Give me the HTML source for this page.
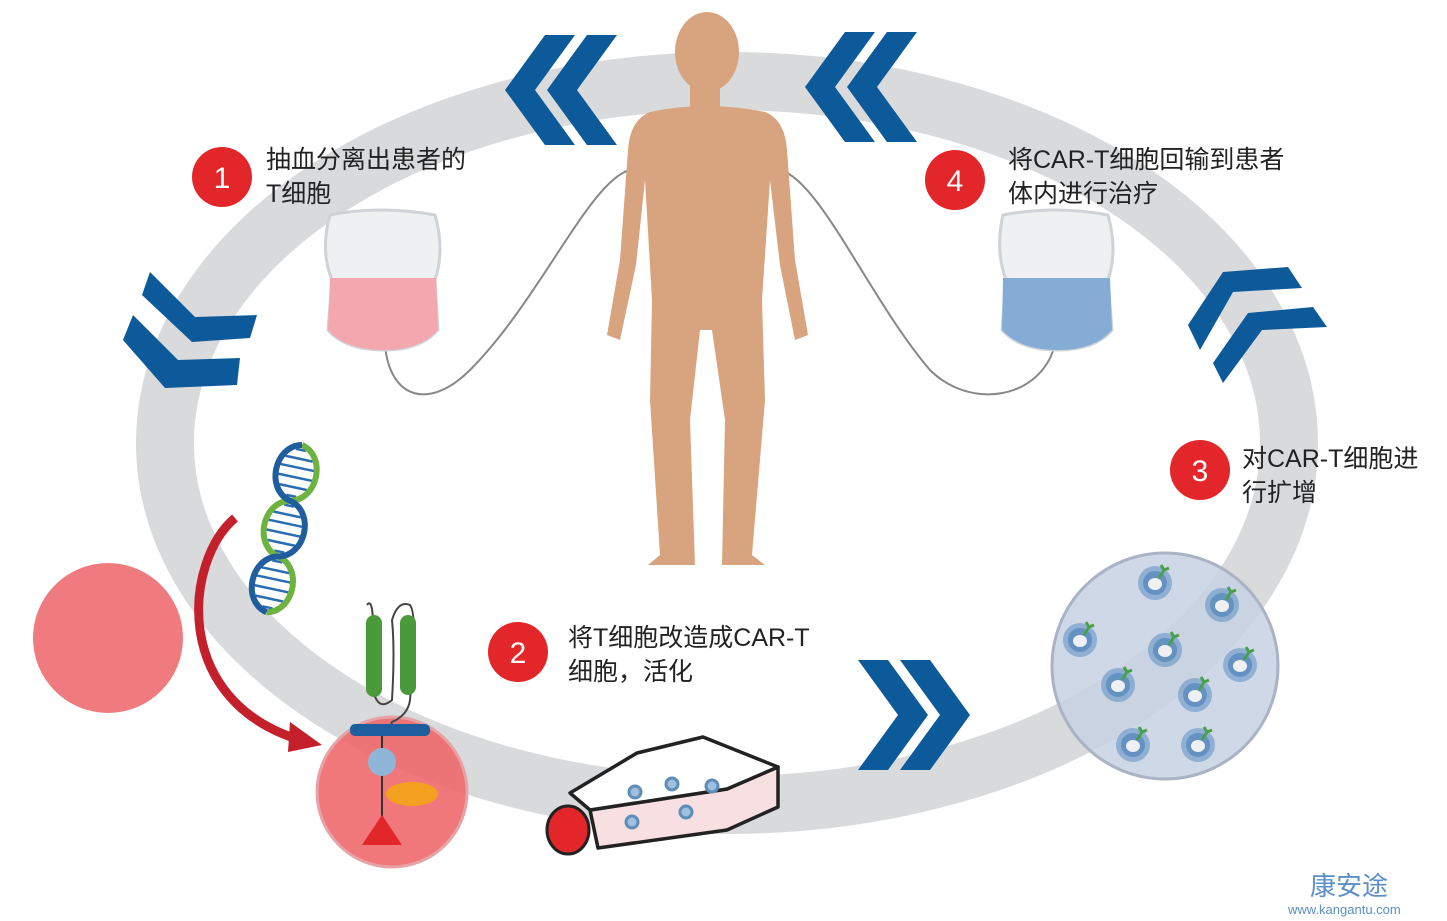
<!DOCTYPE html>
<html><head><meta charset="utf-8"><style>
html,body{margin:0;padding:0;background:#fff;width:1447px;height:921px;overflow:hidden}
svg{display:block}
text{font-family:"Liberation Sans","Noto Sans CJK SC",sans-serif}
</style></head><body>
<svg width="1447" height="921" viewBox="0 0 1447 921" xmlns="http://www.w3.org/2000/svg">
<defs>
<g id="chev"><polygon points="0,0 30,0 -10,55 30,110 0,110 -40,55" fill="#0d5a9a"/></g>
<g id="tc">
<circle r="17" fill="#5b8fc4" opacity="0.55"/><circle r="12" fill="#4a7fb6" opacity="0.6"/>
<ellipse cx="0" cy="1" rx="7" ry="6" fill="#eef0f2"/>
<path d="M4,-5 L9,-13 M9,-13 L6,-18 M9,-13 L14,-15" stroke="#4aa04a" stroke-width="3" fill="none"/>
</g>
<g id="rungs">
<line x1="-5" y1="5" x2="5" y2="5"/><line x1="-14" y1="14" x2="14" y2="14"/><line x1="-19" y1="23" x2="19" y2="23"/><line x1="-20" y1="33" x2="20" y2="33"/><line x1="-14" y1="43" x2="14" y2="43"/><line x1="-5" y1="52" x2="5" y2="52"/>
</g>
</defs>
<!-- ring -->
<ellipse cx="727" cy="443" rx="562" ry="362" fill="none" stroke="#d9dadc" stroke-width="58"/>
<!-- chevrons -->
<g transform="translate(545,35)"><use href="#chev"/><use href="#chev" x="42"/></g>
<g transform="translate(845,32)"><use href="#chev"/><use href="#chev" x="42"/></g>
<polygon points="150,272 195,317 257,315 250,338 192,342 142,295" fill="#0d5a9a"/>
<polygon points="133,315 178,360 240,358 237,385 165,388 123,340" fill="#0d5a9a"/>
<polygon points="1188,325 1223,272 1288,267 1302,288 1233,292 1200,350" fill="#0d5a9a"/>
<polygon points="1213,363 1248,313 1313,307 1327,327 1262,330 1223,383" fill="#0d5a9a"/>
<g transform="translate(930,770) rotate(180)"><use href="#chev"/><use href="#chev" x="42"/></g>
<!-- wires -->
<path d="M385,345 C390,400 430,410 470,370 C540,300 590,180 630,170" fill="none" stroke="#888" stroke-width="2"/>
<path d="M780,170 C820,180 870,300 930,370 C970,410 1040,400 1055,345" fill="none" stroke="#888" stroke-width="2"/>
<!-- bags -->
<path d="M330,215 Q380,205 435,215 Q445,250 435,280 L438,330 Q420,350 385,350 Q345,350 328,330 L332,280 Q320,250 330,215Z" fill="#eef0f2" stroke="#cfd3d7" stroke-width="3"/>
<path d="M330,278 L436,278 L438,330 Q420,350 385,350 Q345,350 328,330Z" fill="#f4a7ae"/>
<path d="M1003,215 Q1055,205 1108,215 Q1118,250 1108,280 L1112,330 Q1095,350 1058,350 Q1020,350 1002,330 L1006,280 Q995,250 1003,215Z" fill="#eef0f2" stroke="#cfd3d7" stroke-width="3"/>
<path d="M1003,278 L1110,278 L1112,330 Q1095,350 1058,350 Q1020,350 1002,330Z" fill="#84acd4"/>
<!-- human -->
<g fill="#d7a47f">
<ellipse cx="707" cy="52" rx="32" ry="40"/>
<rect x="690" y="80" width="30" height="40"/>
<path d="M650,112 Q705,100 765,112 Q785,120 787,150 L795,260 L808,335 L795,340 L780,265 L770,180 L762,300 L765,400 L752,555 L765,565 L722,565 L725,420 L712,330 L700,330 L690,420 L695,565 L648,565 L660,555 L650,400 L652,300 L645,180 L636,265 L620,340 L607,335 L620,260 L628,150 Q630,120 650,112Z"/>
</g>
<!-- step badges -->
<g fill="#fff" text-anchor="middle">
<circle cx="222" cy="177" r="30" fill="#e3262a"/><text x="222" y="188" font-size="30">1</text>
<circle cx="955" cy="180" r="30" fill="#e3262a"/><text x="955" y="191" font-size="30">4</text>
<circle cx="1200" cy="470" r="30" fill="#e3262a"/><text x="1200" y="481" font-size="30">3</text>
<circle cx="518" cy="652" r="30" fill="#e3262a"/><text x="518" y="663" font-size="30">2</text>
</g>
<g font-size="25" fill="#222">
<text x="266" y="168">抽血分离出患者的</text><text x="266" y="202">T细胞</text>
<text x="1008" y="168">将CAR-T细胞回输到患者</text><text x="1008" y="202">体内进行治疗</text>
<text x="1242" y="467">对CAR-T细胞进</text><text x="1242" y="501">行扩增</text>
<text x="568" y="646">将T细胞改造成CAR-T</text><text x="568" y="680">细胞，活化</text>
</g>
<!-- left cells -->
<circle cx="108" cy="638" r="75" fill="#f07b7f"/>
<path d="M235,518 C185,560 170,700 300,740" fill="none" stroke="#c4202c" stroke-width="9"/>
<polygon points="290,722 322,745 288,752" fill="#c4202c"/>
<!-- DNA -->
<g transform="translate(302,445) rotate(12)">
<g stroke="#2a6db0" stroke-width="2.5">
<use href="#rungs"/><use href="#rungs" y="57"/><use href="#rungs" y="114"/>
</g>
<path d="M0,0 C27,6 27,51 0,57 C-27,63 -27,108 0,114 C27,120 27,165 0,171" fill="none" stroke="#6cb33f" stroke-width="6"/>
<path d="M0,0 C-27,6 -27,51 0,57 C27,63 27,108 0,114 C-27,120 -27,165 0,171" fill="none" stroke="#1f5d9e" stroke-width="6"/>
</g>
<!-- CAR-T cell -->
<circle cx="392" cy="792" r="75" fill="#ee6468" fill-opacity="0.88" stroke="#e6a3a5" stroke-width="3"/>
<path d="M367,605 Q372,598 373,620 M373,690 Q378,712 392,700 Q395,650 392,620 Q398,600 410,605 Q418,615 410,700 Q408,715 392,722 L390,728" fill="none" stroke="#444" stroke-width="2"/>
<rect x="350" y="724" width="80" height="12" rx="5" fill="#1d5e9e"/>
<rect x="366" y="615" width="16" height="82" rx="8" fill="#4a9a3c"/>
<rect x="400" y="615" width="16" height="80" rx="8" fill="#4a9a3c"/>
<line x1="382" y1="736" x2="382" y2="830" stroke="#333" stroke-width="2"/>
<circle cx="382" cy="762" r="14" fill="#8fb6d8"/>
<ellipse cx="412" cy="794" rx="26" ry="12" fill="#f4a020"/>
<polygon points="382,815 402,845 362,845" fill="#e3262a"/>
<!-- flask -->
<polygon points="590,810 727,789 778,767 778,807 727,830 598,848" fill="#f7dfe2" stroke="#222" stroke-width="3.5" stroke-linejoin="round"/>
<polygon points="570,793 637,753 703,737 778,767 727,789 590,810" fill="#fff" stroke="#222" stroke-width="3.5" stroke-linejoin="round"/>
<g fill="#9fc0dc" stroke="#5d8db8" stroke-width="3"><circle cx="635" cy="792" r="6"/><circle cx="672" cy="784" r="6"/><circle cx="712" cy="786" r="6"/><circle cx="632" cy="822" r="6"/><circle cx="686" cy="812" r="6"/></g>
<ellipse cx="568" cy="830" rx="21" ry="24" fill="#e3262a" stroke="#222" stroke-width="3"/>
<!-- expansion dish -->
<circle cx="1165" cy="666" r="113" fill="#c7d1e2" fill-opacity="0.85" stroke="#aab3c4" stroke-width="3"/>
<g>
<use href="#tc" x="1155" y="583"/><use href="#tc" x="1222" y="605"/><use href="#tc" x="1080" y="640"/><use href="#tc" x="1165" y="650"/><use href="#tc" x="1240" y="665"/><use href="#tc" x="1118" y="685"/><use href="#tc" x="1195" y="695"/><use href="#tc" x="1133" y="745"/><use href="#tc" x="1198" y="745"/>
</g>
<!-- watermark -->
<text x="1310" y="895" font-size="26" fill="#5a8fc8" font-family="Noto Serif CJK SC,serif">康安途</text>
<text x="1288" y="914" font-size="13" fill="#5a8fc8">www.kangantu.com</text>
</svg>
</body></html>
